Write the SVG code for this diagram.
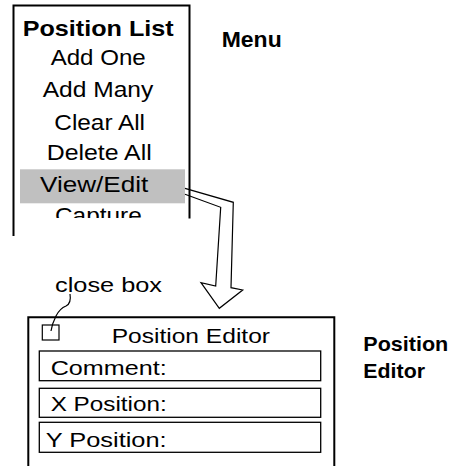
<svg xmlns="http://www.w3.org/2000/svg" width="461" height="466" viewBox="0 0 461 466">
  <style>
    .t { font-family: "Liberation Sans", Arial, sans-serif; fill: #000; }
    .b { font-weight: bold; }
    .border { fill: none; stroke: #000; stroke-width: 2; }
    .field { fill: none; stroke: #000; stroke-width: 1.3; }
    .thin { fill: none; stroke: #000; stroke-width: 1.2; }
  </style>
  <defs>
    <clipPath id="capClip">
      <rect x="14" y="200" width="175" height="18"/>
    </clipPath>
  </defs>
  <rect width="461" height="466" fill="#fff"/>

  <g id="menu">
    <rect x="20" y="169.3" width="165" height="34" fill="#c0c0c0"/>
    <text class="t b" x="22.7" y="35.7" font-size="22" textLength="151" lengthAdjust="spacingAndGlyphs">Position  List</text>
    <text class="t" x="50.7" y="65" font-size="22" textLength="95" lengthAdjust="spacingAndGlyphs">Add One</text>
    <text class="t" x="42.7" y="96.7" font-size="22" textLength="110.6" lengthAdjust="spacingAndGlyphs">Add  Many</text>
    <text class="t" x="54.3" y="130" font-size="22" textLength="90.7" lengthAdjust="spacingAndGlyphs">Clear  All</text>
    <text class="t" x="46.7" y="160" font-size="22" textLength="105" lengthAdjust="spacingAndGlyphs">Delete  All</text>
    <text class="t" x="40" y="191.7" font-size="22" textLength="108.3" lengthAdjust="spacingAndGlyphs">View/Edit</text>
    <text class="t" x="55" y="223" font-size="22" textLength="86.7" lengthAdjust="spacingAndGlyphs" clip-path="url(#capClip)">Capture</text>
  </g>

  <g id="connectors">
    <polygon points="185,188.3 233.3,202.3 231,287.7 242.7,290 219.3,308.3 201,282.7 215.7,286 220.7,207.3 185,194.3" fill="#fff" stroke="none"/>
    <polyline points="185,188.3 233.3,202.3 231,287.7 242.7,290 219.3,308.3 201,282.7 215.7,286 220.7,207.3 185,194.3" class="thin"/>
    <path d="M70,294 C71,300 70,304 66,306 C61,308 58,312 56,316 C54,320 52,324 51,331" class="thin"/>
  </g>

  <g id="menu-border">
    <polyline points="13.5,236 13.5,5.5 189.5,5.5 189.5,218.5" class="border"/>
  </g>

  <g id="menu-label">
    <text class="t b" x="221.7" y="46.7" font-size="22" textLength="60" lengthAdjust="spacingAndGlyphs">Menu</text>
  </g>

  <g id="close-box-label">
    <text class="t" x="55" y="291.7" font-size="21" textLength="107" lengthAdjust="spacingAndGlyphs">close  box</text>
  </g>

  <g id="editor">
    <polyline points="28.3,466 28.3,317.3 334.3,317.3 334.3,466" class="border"/>
    <rect x="42.3" y="325" width="16.7" height="15" class="thin"/>
    <text class="t" x="111.7" y="342.7" font-size="21" textLength="158.3" lengthAdjust="spacingAndGlyphs">Position  Editor</text>
    <rect x="39.3" y="351" width="281.4" height="29.7" class="field"/>
    <text class="t" x="50.7" y="375" font-size="21" textLength="116" lengthAdjust="spacingAndGlyphs">Comment:</text>
    <rect x="39.3" y="388.3" width="281.4" height="29" class="field"/>
    <text class="t" x="50.7" y="410.7" font-size="21" textLength="116" lengthAdjust="spacingAndGlyphs">X  Position:</text>
    <rect x="39.3" y="422.3" width="281.4" height="30" class="field"/>
    <text class="t" x="45.7" y="446.7" font-size="21" textLength="121" lengthAdjust="spacingAndGlyphs">Y   Position:</text>
  </g>

  <g id="editor-label">
    <text class="t b" x="363.3" y="351" font-size="21" textLength="85" lengthAdjust="spacingAndGlyphs">Position</text>
    <text class="t b" x="363.3" y="377.7" font-size="21" textLength="61.7" lengthAdjust="spacingAndGlyphs">Editor</text>
  </g>
</svg>
